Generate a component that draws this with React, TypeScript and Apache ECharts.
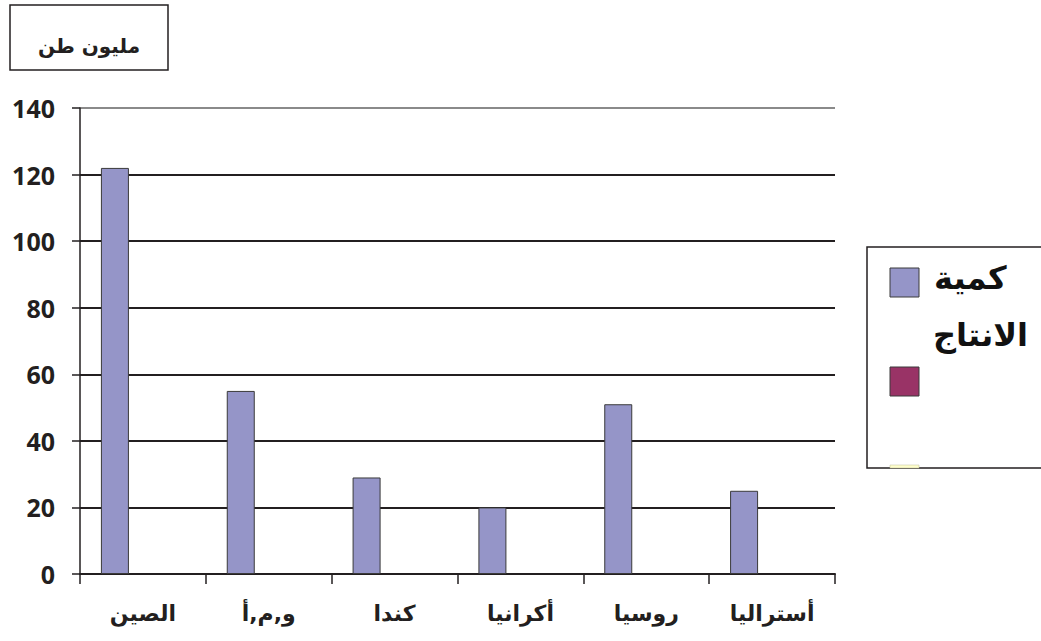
import React, { useEffect, useRef } from "react";
import * as echarts from "echarts";

const categories = ["الصين", "و,م,أ", "كندا", "أكرانيا", "روسيا", "أستراليا"];
const production = [122, 55, 29, 20, 51, 25];
const series2: (number | null)[] = [null, null, null, null, null, null];
const series3: (number | null)[] = [null, null, null, null, null, null];
const seriesNames = ["كمية الانتاج", "", " "];
const unitLabel = "مليون طن";

const FONT = "'Open Sans', 'DejaVu Sans', sans-serif";
const AR_FONT = "'DejaVu Sans', sans-serif";

export default function App() {
  const ref = useRef<HTMLDivElement>(null);
  useEffect(() => {
    if (!ref.current) return;
    const chart = echarts.init(ref.current, undefined, { renderer: "svg" });
    chart.setOption({
      animation: false,
      backgroundColor: "#ffffff",
      grid: { left: 80, right: 206, top: 108, bottom: 67 },
      xAxis: {
        type: "category",
        data: categories,
        axisLine: { show: true, lineStyle: { color: "#231f20", width: 2 } },
        axisTick: { show: true, interval: 0, length: 10, lineStyle: { color: "#231f20", width: 1.5 } },
        axisLabel: {
          interval: 0,
          margin: 28,
          fontSize: 22,
          fontWeight: "bold",
          color: "#231f20",
          fontFamily: AR_FONT,
        },
        splitLine: { show: false },
      },
      yAxis: {
        type: "value",
        min: 0,
        max: 140,
        interval: 20,
        axisLine: { show: true, lineStyle: { color: "#231f20", width: 1.5 } },
        axisTick: { show: true, length: 8, lineStyle: { color: "#231f20", width: 1.5 } },
        axisLabel: {
          margin: 25,
          fontSize: 25,
          fontWeight: "bold",
          color: "#231f20",
          fontFamily: FONT,
        },
        splitLine: {
          show: true,
          lineStyle: {
            color: ["#231f20", "#231f20", "#231f20", "#231f20", "#231f20", "#231f20", "#231f20", "#8a8a8a"],
            width: 1.8,
          },
        },
      },
      series: [
        {
          name: seriesNames[0],
          type: "bar",
          data: production,
          barWidth: 28,
          barGap: "0%",
          itemStyle: { color: "#9595c8", borderColor: "#3a3a3a", borderWidth: 1 },
        },
        {
          name: seriesNames[1],
          type: "bar",
          data: series2,
          barWidth: 28,
          barGap: "0%",
          itemStyle: { color: "#993366" },
        },
        {
          name: seriesNames[2],
          type: "bar",
          data: series3,
          barWidth: 28,
          barGap: "0%",
          itemStyle: { color: "#ffffcc" },
        },
      ],
      graphic: [
        {
          type: "rect",
          shape: { x: 10, y: 5, width: 158, height: 65 },
          style: { fill: "#ffffff", stroke: "#231f20", lineWidth: 1.5 },
        },
        {
          type: "text",
          x: 89,
          y: 46,
          style: {
            text: unitLabel,
            fontSize: 20,
            fontWeight: "bold",
            fontFamily: AR_FONT,
            fill: "#231f20",
            align: "center",
            verticalAlign: "middle",
          },
        },
        {
          type: "rect",
          shape: { x: 867, y: 247, width: 200, height: 221 },
          style: { fill: "#ffffff", stroke: "#231f20", lineWidth: 1.5 },
        },
        {
          type: "rect",
          shape: { x: 890, y: 268, width: 29, height: 29 },
          style: { fill: "#9595c8", stroke: "#3a3a3a", lineWidth: 1 },
        },
        {
          type: "text",
          x: 934,
          y: 278,
          style: {
            text: "كمية",
            fontSize: 32,
            fontWeight: "bold",
            fontFamily: AR_FONT,
            fill: "#111111",
            align: "left",
            verticalAlign: "middle",
          },
        },
        {
          type: "text",
          x: 933,
          y: 335,
          style: {
            text: "الانتاج",
            fontSize: 32,
            fontWeight: "bold",
            fontFamily: AR_FONT,
            fill: "#111111",
            align: "left",
            verticalAlign: "middle",
          },
        },
        {
          type: "rect",
          shape: { x: 890, y: 367, width: 29, height: 29 },
          style: { fill: "#993366", stroke: "#3a3a3a", lineWidth: 1 },
        },
        {
          type: "rect",
          shape: { x: 890, y: 465, width: 29, height: 3 },
          style: { fill: "#ffffcc", stroke: "#bdbd9a", lineWidth: 0.5 },
        },
      ],
    });
    return () => chart.dispose();
  }, []);
  return (
    <div
      ref={ref}
      style={{ position: "fixed", left: 0, top: 0, width: 1041, height: 641, background: "#fff" }}
    />
  );
}
